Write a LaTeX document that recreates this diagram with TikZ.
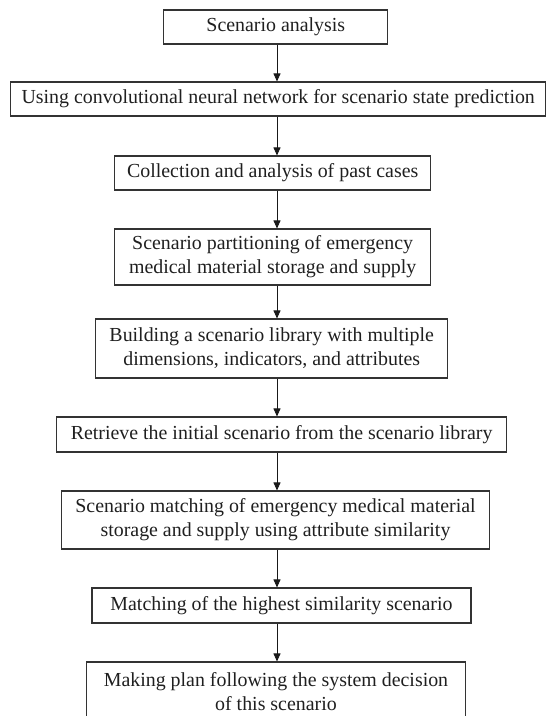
\documentclass[tikz,border=0pt]{standalone}
\usepackage{fontspec}
\setmainfont{Liberation Serif}
\usetikzlibrary{arrows.meta}

\begin{document}
\begin{tikzpicture}[x=1pt,y=-1pt,
    box/.style={draw=black!80, line width=1.1pt, align=center, inner sep=0pt,
                font=\fontsize{19.9}{24}\selectfont, text=black!88},
    arr/.style={-{Triangle[length=8pt,width=7pt]}, line width=0.9pt, draw=black!90}]
  \useasboundingbox (0,0) rectangle (547,716);
  \clip (0,0) rectangle (547,716);

  % Nodes
  \node[box, minimum width=224, minimum height=34] (analysis) at (275.8,27) {Scenario analysis};
  \node[box, minimum width=535, minimum height=34] (cnn) at (278.2,99) {Using convolutional neural network for scenario state prediction};
  \node[box, minimum width=316, minimum height=34] (past) at (272.7,173) {Collection and analysis of past cases};
  \node[box, minimum width=316, minimum height=56] (partition) at (272.7,257) {Scenario partitioning of emergency\\medical material storage and supply};
  \node[box, minimum width=352, minimum height=59] (library) at (271.7,348.5) {Building a scenario library with multiple\\dimensions, indicators, and attributes};
  \node[box, minimum width=450, minimum height=35] (initial) at (281.6,434.5) {Retrieve the initial scenario from the scenario library};
  \node[box, minimum width=428, minimum height=58] (matching) at (275.5,520) {Scenario matching of emergency medical material\\storage and supply using attribute similarity};
  \node[box, minimum width=379, minimum height=35] (highest) at (281.5,605.5) {Matching of the highest similarity scenario};
  \node[box, minimum width=379, minimum height=60] (plan) at (276,692) {Making plan following the system decision\\of this scenario};

  \coordinate (axis) at (277,0);

  % Edges
  \draw[arr] (analysis.south -| axis) -- (cnn.north -| axis);
  \draw[arr] (cnn.south -| axis) -- (past.north -| axis);
  \draw[arr] (past.south -| axis) -- (partition.north -| axis);
  \draw[arr] (partition.south -| axis) -- (library.north -| axis);
  \draw[arr] (library.south -| axis) -- (initial.north -| axis);
  \draw[arr] (initial.south -| axis) -- (matching.north -| axis);
  \draw[arr] (matching.south -| axis) -- (highest.north -| axis);
  \draw[arr] (highest.south -| axis) -- (plan.north -| axis);
\end{tikzpicture}
\end{document}
